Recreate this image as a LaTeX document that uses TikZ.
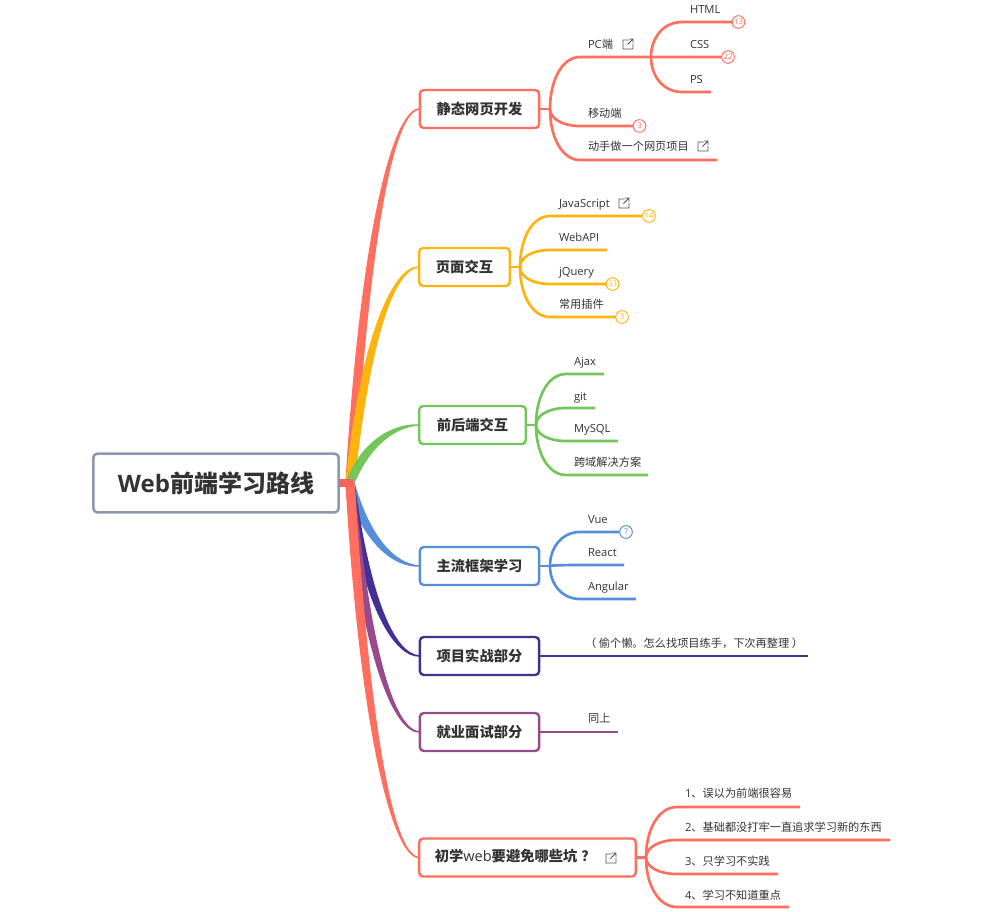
\documentclass[tikz,border=0pt]{standalone}
\usepackage{fontspec}
\setmainfont{Open Sans}
\newfontfamily\cj{Noto Sans CJK SC}
\usetikzlibrary{calc}
\definecolor{cA}{HTML}{FF6E5E}
\definecolor{cB}{HTML}{FFB30F}
\definecolor{cC}{HTML}{74C65B}
\definecolor{cD}{HTML}{558FDB}
\definecolor{cE}{HTML}{452F94}
\definecolor{cF}{HTML}{984A8C}
\definecolor{cG}{HTML}{FF6E5E}
\definecolor{cR}{HTML}{8C99AC}
\definecolor{cS}{HTML}{F2625F}
\definecolor{cT}{HTML}{333333}
\tikzset{
  rootbox/.style={draw=cR,fill=white,line width=1.9pt,rounded corners=3pt,minimum width=184pt,minimum height=44pt,inner sep=0,outer sep=0,text=cT,font=\fontsize{18pt}{20pt}\selectfont\bfseries},
  mainbox/.style={draw=#1,fill=white,line width=1.8pt,rounded corners=3pt,minimum height=28.5pt,inner sep=0,outer sep=0,text=cT,font=\fontsize{10.7pt}{13pt}\selectfont\cj\bfseries},
  leaf/.style={anchor=base west,yshift=-3pt,inner sep=0,outer sep=0,text=cT,font=\fontsize{8.4pt}{10pt}\selectfont},
  cjleaf/.style={leaf,font=\fontsize{8.4pt}{10pt}\selectfont\cj},
  badge/.style={circle,draw=#1,fill=white,text=#1,line width=0.7pt,minimum size=9.5pt,inner sep=0,outer sep=0,font=\fontsize{5.8pt}{6pt}\selectfont},
  extlink/.pic={\draw[cT!85,line width=0.7pt,line join=round] (0.5,-4)--(-5,-4)--(-5,5)--(5,5)--(5,0) (-0.5,0.5)--(5,-5) (1,-5)--(5,-5)--(5,-1);}
}
\newcommand\branch[2]{%
  \fill[#1] let \p1=(hub),\p2=(#2.west) in
    ($(\x1,\y1)+(-3.5pt,0)$) .. controls ($(\x1,{0.3*\y1+0.7*\y2})+(8.5pt,{sign(\y2-\y1)*2.5pt})$) and ($(\x1,\y2)+(33.75pt,{sign(\y2-\y1)*1.6pt})$) .. ($(\p2)+(0,{sign(\y2-\y1)*0.5pt})$)
    -- ($(\p2)+(0,{-sign(\y2-\y1)*0.5pt})$) .. controls ($(\x1,\y2)+(33.75pt,{-sign(\y2-\y1)*1.6pt})$) and ($(\x1,{0.3*\y1+0.7*\y2})+(15.5pt,{-sign(\y2-\y1)*2.5pt})$) .. ($(\x1,\y1)+(3.5pt,0)$) -- cycle;}
\newcommand\kid[4]{%
  \draw[#1,line width=2pt] let \p1=(#2),\p2=(#3) in
    (\p1) .. controls (\x1,{0.45*\y1+0.55*\y2}) and ({0.6*\x1+0.4*\x2},\y2) .. (\p2) -- (#4);}
\begin{document}
\begin{tikzpicture}[x=0.75pt,y=-0.75pt]
\useasboundingbox (0,0) rectangle (986,911);
\coordinate (hub) at (350,483);
% main boxes (positions)
\path node[rootbox] (root) at (216,483) {Web{\cj 前端学习路线}};
\path node[mainbox=cA,minimum width=89.5pt] (a) at (479.5,109) {静态网页开发};
\path node[mainbox=cB,minimum width=68pt] (b) at (464.5,267) {页面交互};
\path node[mainbox=cC,minimum width=80pt] (c) at (472.5,425) {前后端交互};
\path node[mainbox=cD,minimum width=89.5pt] (d) at (479.5,566) {主流框架学习};
\path node[mainbox=cE,minimum width=89.5pt] (e) at (479.5,656) {项目实战部分};
\path node[mainbox=cF,minimum width=89.5pt] (f) at (479.5,732) {就业面试部分};
\path node[mainbox=cG,minimum width=162.5pt] (g) at (527.5,857.5) {\makebox[139pt][l]{\strut 初学{\fontspec{Open Sans}\fontsize{10.9pt}{13pt}\selectfont\mdseries web}要避免哪些坑\hspace{3pt}？}};
% tapered branches
\branch{cA}{a}
\branch{cB}{b}
\branch{cC}{c}
\branch{cD}{d}
\branch{cE}{e}
\branch{cF}{f}
\branch{cG}{g}
\draw[cS,line width=5.5pt] (root.east) -- ($(hub)+(3,0)$);
% hubs
\coordinate (ah) at (550,109); \coordinate (ap) at (651,57);
\coordinate (bh) at (520,267);
\coordinate (ch) at (536,425);
\coordinate (dh) at (550,566);
\coordinate (gh) at (646,857.5);
\foreach \n/\h/\c in {a/ah/cA,b/bh/cB,c/ch/cC,d/dh/cD,g/gh/cG}{\draw[\c,line width=2pt] (\n.east) -- (\h);}
% A
\coordinate (a1s) at (580,57);
\coordinate (a11s) at (682,22); \coordinate (a12s) at (682,57); \coordinate (a13s) at (682,92);
\coordinate (a13e) at (711,92);
\coordinate (a2s) at (580,126); \coordinate (a3s) at (580,160); \coordinate (a3e) at (717,160);
\node[badge=cA] (a11b) at (738.5,22) {13};
\node[badge=cA] (a12b) at (728,57) {22};
\node[badge=cA] (a2b) at (639.5,126) {3};
\kid{cA}{ah}{a1s}{ap}
\kid{cA}{ap}{a11s}{a11b}
\kid{cA}{ap}{a12s}{a12b}
\kid{cA}{ap}{a13s}{a13e}
\kid{cA}{ah}{a2s}{a2b}
\kid{cA}{ah}{a3s}{a3e}
\node[leaf] (a1t) at (588,44) {PC{\cj 端}};
\node[leaf] (a11t) at (690,9) {HTML};
\node[leaf] (a12t) at (690,44) {CSS};
\node[leaf] (a13t) at (690,79) {PS};
\node[cjleaf] (a2t) at (588,113) {移动端};
\node[cjleaf] (a3t) at (588,146) {动手做一个网页项目};
\pic at (628,44) {extlink};
\pic at (703,146) {extlink};
% B
\coordinate (b1s) at (550,216); \coordinate (b2s) at (550,250); \coordinate (b3s) at (550,284); \coordinate (b4s) at (550,317);
\coordinate (b2e) at (607,250);
\node[badge=cB] (b1b) at (649,216) {14};
\node[badge=cB] (b3b) at (612.5,284) {33};
\node[badge=cB] (b4b) at (622,317) {3};
\kid{cB}{bh}{b1s}{b1b}
\kid{cB}{bh}{b2s}{b2e}
\kid{cB}{bh}{b3s}{b3b}
\kid{cB}{bh}{b4s}{b4b}
\node[leaf] (b1t) at (559,203) {JavaScript};
\node[leaf] (b2t) at (559,237) {WebAPI};
\node[leaf] (b3t) at (559,271) {jQuery};
\node[cjleaf] (b4t) at (559,304) {常用插件};
\pic at (624,203) {extlink};
% C
\coordinate (c1s) at (566,374); \coordinate (c2s) at (566,408); \coordinate (c3s) at (566,441); \coordinate (c4s) at (566,475);
\coordinate (c1e) at (604,374); \coordinate (c2e) at (595,408); \coordinate (c3e) at (618,441); \coordinate (c4e) at (648,475);
\kid{cC}{ch}{c1s}{c1e}
\kid{cC}{ch}{c2s}{c2e}
\kid{cC}{ch}{c3s}{c3e}
\kid{cC}{ch}{c4s}{c4e}
\node[leaf] (c1t) at (574,361) {Ajax};
\node[leaf] (c2t) at (574,396) {git};
\node[leaf] (c3t) at (574,428) {MySQL};
\node[cjleaf] (c4t) at (574,462) {跨域解决方案};
% D
\coordinate (d1s) at (580,532); \coordinate (d2s) at (580,565); \coordinate (d3s) at (580,599);
\coordinate (d2e) at (624,565); \coordinate (d3e) at (636,599);
\node[badge=cD] (d1b) at (626,532) {7};
\kid{cD}{dh}{d1s}{d1b}
\kid{cD}{dh}{d2s}{d2e}
\kid{cD}{dh}{d3s}{d3e}
\node[leaf] (d1t) at (588,519) {Vue};
\node[leaf] (d2t) at (588,552) {React};
\node[leaf] (d3t) at (588,586) {Angular};
% E, F
\coordinate (ee) at (808,656);
\draw[cE,line width=2pt] (e.east) -- (ee);
\node[cjleaf] (et) at (585,643) {（\hspace{2pt}偷个懒。怎么找项目练手，下次再整理\hspace{2pt}）};
\coordinate (fe) at (618,732);
\draw[cF,line width=2pt] (f.east) -- (fe);
\node[cjleaf] (ft) at (588,718) {同上};
% G
\coordinate (g1s) at (677,807); \coordinate (g2s) at (677,840); \coordinate (g3s) at (677,874); \coordinate (g4s) at (677,907);
\coordinate (g1e) at (800,807); \coordinate (g2e) at (890,840); \coordinate (g3e) at (778,874); \coordinate (g4e) at (789,907);
\kid{cG}{gh}{g1s}{g1e}
\kid{cG}{gh}{g2s}{g2e}
\kid{cG}{gh}{g3s}{g3e}
\kid{cG}{gh}{g4s}{g4e}
\node[leaf] (g1t) at (685,793) {1{\cj 、误以为前端很容易}};
\node[leaf] (g2t) at (685,827) {2{\cj 、基础都没打牢一直追求学习新的东西}};
\node[leaf] (g3t) at (685,861) {3{\cj 、只学习不实践}};
\node[leaf] (g4t) at (685,895) {4{\cj 、学习不知道重点}};
\pic at (611,858) {extlink};
\end{tikzpicture}
\end{document}
